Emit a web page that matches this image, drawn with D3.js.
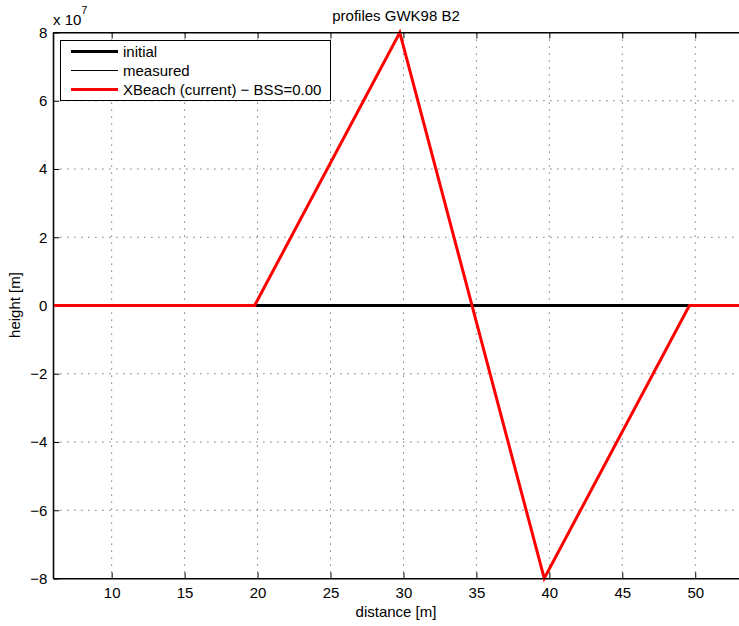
<!DOCTYPE html>
<html><head><meta charset="utf-8">
<script src="https://cdn.jsdelivr.net/npm/d3@7/dist/d3.min.js"></script>
<style>body{margin:0;background:#fff;} svg{display:block;font-family:"Liberation Sans",Arial,sans-serif;}</style>
</head><body>
<script>
const xTicks = [10,15,20,25,30,35,40,45,50];
const yTicks = [-8,-6,-4,-2,0,2,4,6,8];
const initialX = [6, 53];
const initialY = [0, 0];
const measuredX = [6, 53];
const measuredY = [0, 0];
const xbX = [6, 19.8, 29.75, 39.65, 49.6, 53];
const xbY = [0, 0, 8e7, -8e7, 0, 0];
const legendLabels = ["initial","measured","XBeach (current) \u2212 BSS=0.00"];

const W=739,H=626, L=53.3, R=739, T=32.5, B=578.5, FS=15;
const svg=d3.select("body").append("svg").attr("width",W).attr("height",H);
const x=d3.scaleLinear().domain([6,53]).range([L,R]);
const y=d3.scaleLinear().domain([-8e7,8e7]).range([B,T]);

// grid
const g=svg.append("g");
g.selectAll(".vg").data(xTicks).enter().append("line")
 .attr("x1",d=>x(d)).attr("x2",d=>x(d)).attr("y1",T).attr("y2",B)
 .attr("stroke","#555").attr("stroke-width",1).attr("stroke-dasharray","1.2,5.8");
g.selectAll(".hg").data(yTicks).enter().append("line")
 .attr("y1",d=>y(d*1e7)).attr("y2",d=>y(d*1e7)).attr("x1",L).attr("x2",R)
 .attr("stroke","#555").attr("stroke-width",1).attr("stroke-dasharray","1.2,5.8");

// axes
const xa=d3.axisBottom(x).tickValues(xTicks).tickSize(-6).tickPadding(9).tickSizeOuter(0);
svg.append("g").attr("transform",`translate(0,${B})`).call(xa);
const xt=d3.axisTop(x).tickValues(xTicks).tickSize(-6).tickFormat("").tickSizeOuter(0);
svg.append("g").attr("transform",`translate(0,${T})`).call(xt);
const ya=d3.axisLeft(y).tickValues(yTicks.map(v=>v*1e7)).tickSize(-6).tickPadding(6)
 .tickFormat(d=>{const v=Math.round(d/1e7); return v<0?"\u2212"+(-v):String(v);}).tickSizeOuter(0);
svg.append("g").attr("transform",`translate(${L},0)`).call(ya);
svg.selectAll(".domain").attr("stroke","#000").attr("stroke-width",1);
svg.selectAll(".tick line").attr("stroke","#000");
svg.selectAll(".tick text").attr("font-size",FS).attr("fill","#000")
 .attr("font-family","Liberation Sans, Arial, sans-serif");

// lines
const line=(xs,ys)=>d3.line().x((d,i)=>x(xs[i])).y((d,i)=>y(ys[i]))(xs);
svg.append("path").attr("d",line(initialX,initialY)).attr("fill","none").attr("stroke","#000").attr("stroke-width",3);
svg.append("path").attr("d",line(measuredX,measuredY)).attr("fill","none").attr("stroke","#000").attr("stroke-width",1);
svg.append("path").attr("d",line(xbX,xbY)).attr("fill","none").attr("stroke","#ff0000").attr("stroke-width",3).attr("stroke-linejoin","miter");

// box top/bottom/left
svg.append("line").attr("x1",L).attr("x2",R).attr("y1",T).attr("y2",T).attr("stroke","#000").attr("stroke-width",1.2);
svg.append("line").attr("x1",L).attr("x2",R).attr("y1",B).attr("y2",B).attr("stroke","#000").attr("stroke-width",1.2);
svg.append("line").attr("x1",L).attr("x2",L).attr("y1",T).attr("y2",B).attr("stroke","#000").attr("stroke-width",1.2);

// legend
const lg=svg.append("g");
lg.append("rect").attr("x",60.5).attr("y",40.5).attr("width",270).attr("height",60).attr("fill","#fff").attr("stroke","#000").attr("stroke-width",1);
const lstyles=[{c:"#000",w:3},{c:"#000",w:1},{c:"#ff0000",w:3}];
legendLabels.forEach((t,i)=>{
  const yy=51.5+i*19;
  lg.append("line").attr("x1",71).attr("x2",118).attr("y1",yy).attr("y2",yy).attr("stroke",lstyles[i].c).attr("stroke-width",lstyles[i].w);
  lg.append("text").attr("x",123).attr("y",yy+5).attr("font-size",FS).text(t);
});

// titles
svg.append("text").attr("x",396).attr("y",20.5).attr("text-anchor","middle").attr("font-size",FS).text("profiles GWK98 B2");
const ex=svg.append("text").attr("x",53).attr("y",25).attr("font-size",FS);
ex.append("tspan").text("x 10");
ex.append("tspan").attr("dy",-11).attr("font-size",11).text("7");
svg.append("text").attr("x",396).attr("y",617).attr("text-anchor","middle").attr("font-size",FS).text("distance [m]");
svg.append("text").attr("transform","translate(20,305) rotate(-90)").attr("text-anchor","middle").attr("font-size",FS).text("height [m]");
</script>
</body></html>
